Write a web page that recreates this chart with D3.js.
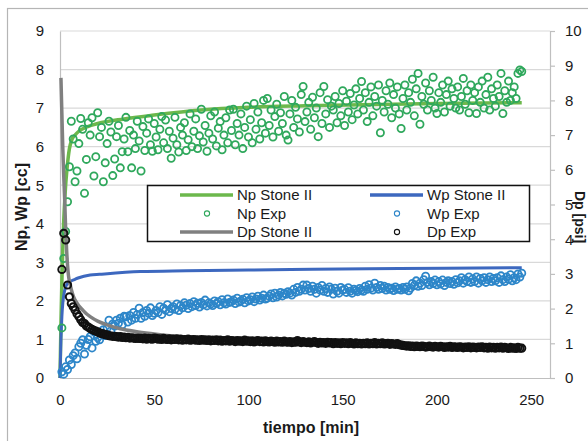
<!DOCTYPE html>
<html>
<head>
<meta charset="utf-8">
<script src="https://cdn.jsdelivr.net/npm/d3@7"></script>
<style>
  html, body { margin: 0; padding: 0; background: #fff; }
  svg { display: block; font-family: "Liberation Sans", Arial, sans-serif; }
</style>
</head>
<body>
<svg id="chart" width="588" height="441"></svg>
<script>
// ---- axis ticks ----
const xTicks = [0, 50, 100, 150, 200, 250];
const yLeftTicks = [0, 1, 2, 3, 4, 5, 6, 7, 8, 9];
const yRightTicks = [0, 1, 2, 3, 4, 5, 6, 7, 8, 9, 10];

// ---- model curves (Stone II), [t min, value] ----
const npStone = [[0,0],[0.5,1.4],[1,2.5],[1.5,3.4],[2,4.1],[2.5,4.6],[3,5.0],[3.5,5.3],[4.4,5.74],[5,5.95],[6.2,6.17],[8,6.3],[10,6.4],[14.7,6.52],[20,6.6],[34,6.72],[50,6.82],[75,6.95],[100,7.02],[130,7.06],[160,7.09],[200,7.12],[245,7.14]];
const wpStone = [[0,0],[0.5,1.0],[1,1.6],[1.5,1.95],[2,2.15],[3,2.36],[4,2.45],[5.3,2.5],[8,2.56],[10,2.6],[16,2.67],[21,2.69],[42.6,2.76],[67,2.78],[100,2.8],[134,2.82],[180,2.84],[245,2.86]];
const dpStone = [[0.5,8.65],[1,7.6],[1.5,6.6],[2,5.8],[2.5,5.1],[3,4.3],[3.5,3.7],[4,3.25],[4.5,2.95],[5.2,2.74],[6,2.55],[7,2.37],[8.5,2.2],[10,2.08],[12,1.96],[14,1.85],[16,1.77],[20,1.64],[25,1.53],[32,1.42],[40,1.34],[50,1.27],[60,1.21],[80,1.13],[100,1.08],[130,1.02],[160,0.98],[200,0.92],[245,0.88]];

// ---- experimental readings, one per minute from t = 1 ----
const tExp = d3.range(1, 246);
const npExp = [
  1.3,3.1,3.8,4.57,5.48,6.66,6.2,5.09,5.37,6.08,
  6.73,6.45,4.79,5.67,6.62,6.3,6.75,5.24,5.74,6.88,
  6.26,6.5,5.09,5.58,6.08,6.66,6.38,5.25,5.68,6.26,
  6.55,5.45,5.87,6.2,6.76,5.87,6.42,5.45,6.3,5.95,
  6.66,6.15,5.37,6.52,5.9,6.35,6.72,6.05,5.88,6.6,
  6.25,5.92,6.45,6.78,6.1,6.69,5.95,6.4,5.7,6.22,
  6.76,6.05,5.86,6.5,6.3,6.62,5.9,6.18,6.85,6.0,
  6.4,6.72,5.95,6.28,6.97,6.12,6.55,5.88,6.35,6.8,
  6.2,6.9,6.02,6.48,6.65,5.92,6.3,6.75,6.1,6.95,
  6.42,6.97,6.05,6.6,6.3,6.85,5.95,6.5,7.05,6.25,
  6.7,6.1,7.12,6.45,6.9,6.2,6.62,7.2,6.35,7.25,
  6.55,6.95,6.25,6.78,7.1,6.4,6.88,6.6,7.3,6.3,
  6.17,6.85,7.2,6.5,7.02,6.72,6.38,7.35,7.56,6.65,
  6.9,7.15,6.45,7.28,6.75,7.0,6.26,7.4,6.6,7.56,
  6.85,7.22,6.5,7.05,6.95,7.3,6.62,7.12,6.8,7.45,
  6.55,7.18,6.9,7.38,6.7,7.08,7.5,6.85,7.25,7.69,
  6.95,7.4,6.65,7.15,7.55,6.8,7.3,7.05,7.6,6.36,
  7.2,6.9,7.45,7.1,7.65,6.75,7.35,7.0,7.55,6.85,
  6.47,7.25,7.6,6.95,7.4,7.15,7.75,6.8,7.5,7.9,
  6.58,7.3,7.1,7.65,6.95,7.45,7.2,7.8,7.0,6.86,
  7.4,7.15,7.6,6.9,7.35,7.7,7.05,7.5,7.25,7.0,
  7.55,6.95,7.3,7.77,7.1,7.45,6.88,7.6,7.2,7.4,
  6.86,7.55,7.15,7.7,7.0,7.35,7.8,6.95,7.5,7.25,
  7.05,7.6,7.3,7.9,6.86,7.45,7.15,7.7,7.2,7.4,
  7.55,7.25,7.9,7.99,7.95
];
const wpExp = [
  0.16,0.1,0.29,0.22,0.47,0.35,0.58,0.65,0.5,0.81,
  0.9,0.99,0.62,0.85,1.0,1.07,0.78,1.2,0.95,1.05,
  0.99,1.15,1.25,1.1,1.3,1.5,1.22,1.4,1.35,1.5,
  1.42,1.55,1.38,1.6,1.59,1.45,1.62,1.5,1.7,1.55,
  1.65,1.81,1.55,1.7,1.6,1.75,1.68,1.82,1.62,1.68,
  1.75,1.7,1.85,1.65,1.81,1.76,1.9,1.72,1.8,1.85,
  1.78,1.92,1.75,1.88,1.82,1.95,1.89,1.8,1.93,1.85,
  1.98,1.88,1.94,1.84,1.96,1.9,2.02,1.87,1.95,1.92,
  1.88,2.0,1.93,1.98,1.9,2.03,1.95,1.92,2.05,1.96,
  1.98,2.02,1.93,2.07,1.97,2.0,2.04,1.95,2.08,2.0,
  2.03,2.1,1.98,2.05,2.12,2.02,2.07,2.15,2.05,2.07,
  2.12,2.18,2.08,2.2,2.1,2.15,2.22,2.13,2.2,2.17,
  2.24,2.2,2.15,2.3,2.22,2.35,2.25,2.3,2.41,2.28,
  2.41,2.32,2.25,2.38,2.3,2.2,2.35,2.28,2.4,2.25,
  2.32,2.22,2.36,2.3,2.18,2.33,2.25,2.2,2.35,2.28,
  2.3,2.22,2.34,2.25,2.2,2.3,2.27,2.24,2.32,2.28,
  2.25,2.38,2.3,2.42,2.33,2.28,2.46,2.35,2.3,2.4,
  2.32,2.38,2.28,2.35,2.3,2.33,2.27,2.36,2.3,2.32,
  2.28,2.35,2.3,2.36,2.26,2.33,2.45,2.4,2.52,2.38,
  2.46,2.4,2.55,2.64,2.48,2.42,2.5,2.45,2.54,2.42,
  2.5,2.44,2.54,2.4,2.48,2.52,2.45,2.5,2.43,2.55,
  2.47,2.52,2.6,2.46,2.55,2.5,2.62,2.48,2.57,2.5,
  2.62,2.46,2.58,2.52,2.6,2.48,2.55,2.62,2.5,2.58,
  2.52,2.6,2.48,2.65,2.55,2.5,2.62,2.56,2.68,2.52,
  2.6,2.55,2.7,2.62,2.72
];
const dpExp = [
  3.13,4.17,3.98,2.68,2.34,2.15,2.05,1.96,1.85,1.77,
  1.68,1.6,1.57,1.5,1.47,1.43,1.4,1.37,1.35,1.33,
  1.3,1.28,1.27,1.25,1.24,1.22,1.21,1.2,1.2,1.19,
  1.18,1.19,1.17,1.18,1.16,1.17,1.15,1.16,1.15,1.14,
  1.15,1.14,1.14,1.13,1.15,1.12,1.14,1.13,1.12,1.15,
  1.14,1.12,1.13,1.11,1.14,1.12,1.11,1.13,1.1,1.12,
  1.11,1.13,1.1,1.12,1.09,1.11,1.1,1.12,1.09,1.1,
  1.11,1.09,1.1,1.08,1.11,1.09,1.1,1.08,1.1,1.07,
  1.09,1.08,1.1,1.07,1.09,1.06,1.08,1.07,1.1,1.06,
  1.08,1.07,1.05,1.08,1.06,1.07,1.05,1.09,1.06,1.07,
  1.05,1.07,1.04,1.06,1.08,1.05,1.06,1.04,1.07,1.05,
  1.04,1.06,1.05,1.03,1.06,1.04,1.05,1.03,1.06,1.04,
  1.03,1.05,1.02,1.04,1.03,1.08,1.04,1.02,1.05,1.03,
  1.02,1.04,1.01,1.03,1.05,1.02,1.0,1.03,1.01,1.02,
  1.0,1.03,1.01,1.02,0.99,1.02,1.0,1.01,0.99,1.02,
  1.0,1.01,0.99,1.02,1.0,0.98,1.01,0.99,1.0,0.98,
  1.0,0.99,1.01,0.98,1.0,0.99,1.02,0.98,1.0,0.99,
  1.01,0.98,0.99,1.0,0.97,0.99,0.98,0.97,0.99,0.96,
  0.95,0.94,0.93,0.92,0.93,0.91,0.92,0.9,0.92,0.91,
  0.9,0.92,0.91,0.89,0.9,0.92,0.9,0.89,0.91,0.9,
  0.89,0.91,0.9,0.88,0.9,0.89,0.91,0.88,0.9,0.89,
  0.88,0.9,0.89,0.87,0.89,0.88,0.9,0.87,0.89,0.88,
  0.87,0.89,0.88,0.9,0.87,0.88,0.86,0.89,0.87,0.88,
  0.86,0.88,0.87,0.89,0.86,0.88,0.87,0.85,0.88,0.86,
  0.87,0.85,0.88,0.86,0.86
];

// ---- styling ----
const C = {
  npLine: "#6cb84c", wpLine: "#3d68bf", dpLine: "#808080",
  npDot: "#2fa85c", wpDot: "#2d86c9", dpDot: "#111111",
  grid: "#d9d9d9", axis: "#bfbfbf", text: "#1a1a1a"
};
const FONT = 15;

const svg = d3.select("#chart");
const plot = { left: 60, right: 550, top: 31, bottom: 378 };

const x = d3.scaleLinear().domain([0, 260]).range([plot.left, plot.right]);
const yL = d3.scaleLinear().domain([0, 9]).range([plot.bottom, plot.top]);
const yR = d3.scaleLinear().domain([0, 10]).range([plot.bottom, plot.top]);

// outer chart frame
svg.append("rect").attr("x", 7.5).attr("y", 8.5).attr("width", 600).attr("height", 460)
  .attr("fill", "#fff").attr("stroke", "#b5b5b5").attr("stroke-width", 1.2);

// horizontal gridlines (primary axis)
svg.append("g").selectAll("line").data(yLeftTicks.slice(1)).join("line")
  .attr("x1", plot.left).attr("x2", plot.right)
  .attr("y1", d => yL(d)).attr("y2", d => yL(d))
  .attr("stroke", C.grid).attr("stroke-width", 1.2);

// left axis
const gL = svg.append("g").attr("transform", `translate(${plot.left},0)`)
  .call(d3.axisLeft(yL).tickValues(yLeftTicks).tickSize(0).tickPadding(16));
gL.select(".domain").attr("stroke", C.axis).attr("stroke-width", 1.2);
gL.selectAll("text").attr("font-size", FONT).attr("fill", C.text).attr("font-family", null);

// right (secondary) axis
const gR = svg.append("g").attr("transform", `translate(${plot.right},0)`)
  .call(d3.axisRight(yR).tickValues(yRightTicks).tickSize(5).tickPadding(10));
gR.select(".domain").attr("stroke", C.axis).attr("stroke-width", 1.2);
gR.selectAll("line").attr("stroke", C.axis).attr("stroke-width", 1.2);
gR.selectAll("text").attr("font-size", FONT).attr("fill", C.text).attr("font-family", null);

// bottom axis
const gX = svg.append("g").attr("transform", `translate(0,${plot.bottom})`)
  .call(d3.axisBottom(x).tickValues(xTicks).tickSize(0).tickPadding(16));
gX.select(".domain").attr("stroke", C.axis).attr("stroke-width", 1.2);
gX.selectAll("text").attr("font-size", FONT).attr("fill", C.text).attr("font-family", null);

// axis titles
svg.append("text").attr("transform", `translate(27,207) rotate(-90)`)
  .attr("text-anchor", "middle").attr("font-size", 16).attr("font-weight", "bold")
  .attr("fill", C.text).text("Np, Wp [cc]");
svg.append("text").attr("transform", `translate(575,217) rotate(90)`)
  .attr("text-anchor", "middle").attr("font-size", 14).attr("font-weight", "bold")
  .attr("fill", C.text).text("Dp [psi]");
svg.append("text").attr("x", 311).attr("y", 433)
  .attr("text-anchor", "middle").attr("font-size", 16).attr("font-weight", "bold")
  .attr("fill", C.text).text("tiempo [min]");

const marks = svg.append("g");
const lineL = d3.line().x(d => x(d[0])).y(d => yL(d[1])).curve(d3.curveMonotoneX);
const lineR = d3.line().x(d => x(d[0])).y(d => yR(d[1])).curve(d3.curveMonotoneX);

function dots(values, yScale, color, sw) {
  marks.append("g").selectAll("circle").data(values).join("circle")
    .attr("cx", (d, i) => x(tExp[i])).attr("cy", d => yScale(d)).attr("r", 3.6)
    .attr("fill", "none").attr("stroke", color).attr("stroke-width", sw);
}

// series in plotting order
marks.append("path").datum(npStone).attr("d", lineL)
  .attr("fill", "none").attr("stroke", C.npLine).attr("stroke-width", 3.5);
marks.append("path").datum(wpStone).attr("d", lineL)
  .attr("fill", "none").attr("stroke", C.wpLine).attr("stroke-width", 3);
dots(npExp, yL, C.npDot, 1.8);
dots(wpExp, yL, C.wpDot, 1.8);
marks.append("path").datum(dpStone).attr("d", lineR)
  .attr("fill", "none").attr("stroke", C.dpLine).attr("stroke-width", 3.5);
dots(dpExp, yR, C.dpDot, 2);

// legend
const legend = svg.append("g");
legend.append("rect").attr("x", 147.5).attr("y", 185.5).attr("width", 382).attr("height", 56)
  .attr("fill", "#fff").attr("stroke", "#111").attr("stroke-width", 1.5);
const legendItems = [
  { label: "Np Stone II", kind: "line", color: C.npLine, col: 0, row: 0 },
  { label: "Wp Stone II", kind: "line", color: C.wpLine, col: 1, row: 0 },
  { label: "Np Exp", kind: "dot", color: C.npDot, col: 0, row: 1 },
  { label: "Wp Exp", kind: "dot", color: C.wpDot, col: 1, row: 1 },
  { label: "Dp Stone II", kind: "line", color: C.dpLine, col: 0, row: 2 },
  { label: "Dp Exp", kind: "dot", color: C.dpDot, col: 1, row: 2 }
];
const colX = [180, 370];
const rowY = [195, 213.5, 232];
legendItems.forEach(it => {
  const x0 = colX[it.col], y0 = rowY[it.row];
  if (it.kind === "line") {
    legend.append("line").attr("x1", x0).attr("x2", x0 + 53).attr("y1", y0).attr("y2", y0)
      .attr("stroke", it.color).attr("stroke-width", 3.5);
  } else {
    legend.append("circle").attr("cx", x0 + 27).attr("cy", y0).attr("r", 2.6)
      .attr("fill", "none").attr("stroke", it.color).attr("stroke-width", 1.1);
  }
  legend.append("text").attr("x", x0 + 57).attr("y", y0).attr("dy", "0.36em")
    .attr("font-size", FONT).attr("fill", C.text).text(it.label);
});
</script>
</body>
</html>
